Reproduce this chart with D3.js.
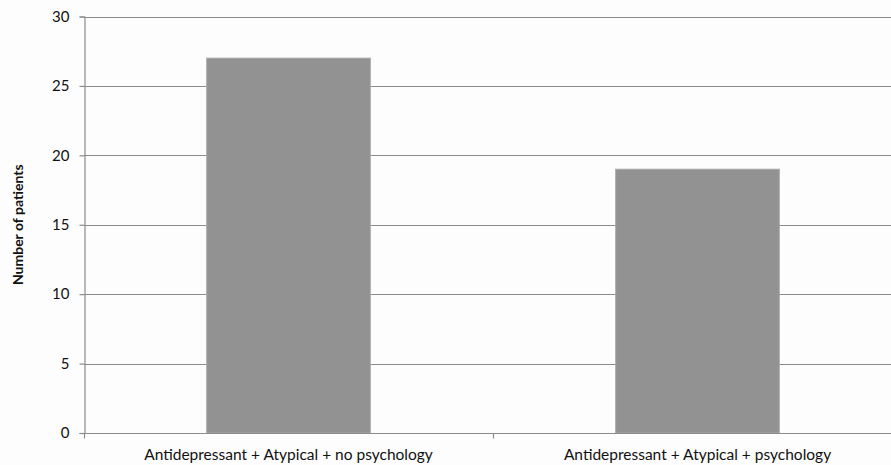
<!DOCTYPE html>
<html>
<head>
<meta charset="utf-8">
<script src="https://cdn.jsdelivr.net/npm/d3@7"></script>
<style>
  html, body { margin: 0; padding: 0; background: #fdfdfd; }
  svg { display: block; }
  text { font-family: Lato, "Open Sans", sans-serif; fill: #111; }
</style>
</head>
<body>
<svg id="chart" width="891" height="465"></svg>
<script>
// Patient counts per treatment combination
const categories = [
  "Antidepressant + Atypical + no psychology",
  "Antidepressant + Atypical + psychology"
];
const patients = [27, 19];
const yTicks = [0, 5, 10, 15, 20, 25, 30];

const svg = d3.select("#chart");
const plotLeft = 84, plotTop = 16.5, plotBottom = 433, plotRight = 902;

const x = d3.scaleBand().domain(categories).range([plotLeft, plotRight]).padding(0);
const y = d3.scaleLinear().domain([0, 30]).range([plotBottom, plotTop]);
const barFrac = 0.4;

// horizontal gridlines
svg.append("g")
  .selectAll("line")
  .data(yTicks.filter(t => t > 0))
  .join("line")
  .attr("x1", plotLeft).attr("x2", 891)
  .attr("y1", d => Math.round(y(d)) + 0.5).attr("y2", d => Math.round(y(d)) + 0.5)
  .attr("stroke", "#8c8c8c").attr("stroke-width", 1.2);

// bars
svg.append("g")
  .selectAll("rect")
  .data(categories.map((c, i) => ({ c, v: patients[i] })))
  .join("rect")
  .attr("x", d => x(d.c) + x.bandwidth() * (1 - barFrac) / 2)
  .attr("width", x.bandwidth() * barFrac)
  .attr("y", d => y(d.v))
  .attr("height", d => y(0) - y(d.v))
  .attr("fill", "#929292")
  .attr("stroke", "#a8a8a8")
  .attr("stroke-width", 1);

// y axis
const yAxis = d3.axisLeft(y).tickValues(yTicks).tickSize(5).tickPadding(10);
const gy = svg.append("g").attr("transform", `translate(${plotLeft + 0.5},0)`).call(yAxis);
gy.select(".domain").attr("stroke", "#8c8c8c").attr("stroke-width", 1.2);
gy.selectAll(".tick line").attr("stroke", "#8c8c8c").attr("stroke-width", 1.2);
gy.selectAll(".tick text").style("font-size", "15px").attr("fill", "#111")
  .style("font-family", "Lato, 'Open Sans', sans-serif");

// x axis baseline with category boundary ticks
const gx = svg.append("g").attr("transform", `translate(0,${Math.round(y(0)) + 0.5})`);
gx.append("line").attr("x1", plotLeft).attr("x2", 891)
  .attr("stroke", "#8c8c8c").attr("stroke-width", 1.2);
const bounds = categories.map(c => x(c)).concat([plotRight]);
gx.selectAll("line.bound")
  .data(bounds)
  .join("line")
  .attr("class", "bound")
  .attr("x1", d => Math.round(d) + 0.5).attr("x2", d => Math.round(d) + 0.5)
  .attr("y1", 0).attr("y2", 5)
  .attr("stroke", "#8c8c8c").attr("stroke-width", 1.2);
gx.selectAll("text")
  .data(categories)
  .join("text")
  .attr("x", d => x(d) + x.bandwidth() / 2)
  .attr("y", 26)
  .attr("text-anchor", "middle")
  .style("font-size", "15.5px")
  .text(d => d);

// y axis title
svg.append("text")
  .attr("transform", `translate(23,${(plotTop + plotBottom) / 2}) rotate(-90)`)
  .attr("text-anchor", "middle")
  .style("font-size", "14px")
  .style("font-weight", "bold")
  .text("Number of patients");
</script>
</body>
</html>
